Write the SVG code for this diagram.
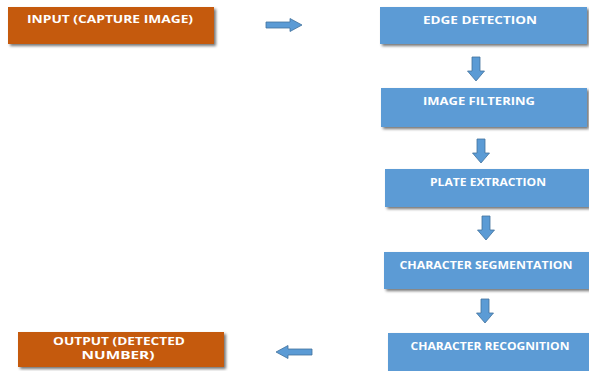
<svg xmlns="http://www.w3.org/2000/svg" width="589" height="371" viewBox="0 0 589 371">
<defs>
<filter id="sh" x="-5%" y="-20%" width="115%" height="160%">
<feGaussianBlur in="SourceAlpha" stdDeviation="1.5"/>
<feOffset dx="2" dy="2" result="b"/>
<feComponentTransfer><feFuncA type="linear" slope="0.55"/></feComponentTransfer>
<feMerge><feMergeNode/><feMergeNode in="SourceGraphic"/></feMerge>
</filter>
<path id="down" d="M-4,0 H4 V14 H8.5 L0,24 L-8.5,14 H-4 Z"/>
</defs>
<style>
.blue{fill:#5b9bd5;filter:url(#sh)}
.orange{fill:#c55a11;filter:url(#sh)}
.t{font-family:"Open Sans","Liberation Sans",Arial,sans-serif;font-weight:bold;font-size:10.5px;fill:#ffffff;text-anchor:middle}
.arr{fill:#5b9bd5;stroke:#41719c;stroke-width:0.8}
</style>
<rect width="589" height="371" fill="#ffffff"/>
<g id="input">
<rect class="orange" x="8" y="7" width="206" height="37"/>
<text class="t" x="110" y="23" textLength="166" lengthAdjust="spacingAndGlyphs">INPUT (CAPTURE IMAGE)</text>
</g>
<g id="edge">
<rect class="blue" x="380" y="7" width="207" height="37"/>
<text class="t" x="480" y="24" textLength="114" lengthAdjust="spacingAndGlyphs">EDGE DETECTION</text>
</g>
<g id="filter">
<rect class="blue" x="381" y="88" width="206" height="39"/>
<text class="t" x="479" y="105" textLength="112" lengthAdjust="spacingAndGlyphs">IMAGE FILTERING</text>
</g>
<g id="plate">
<rect class="blue" x="385" y="169" width="204" height="38"/>
<text class="t" x="488" y="186" textLength="116" lengthAdjust="spacingAndGlyphs">PLATE EXTRACTION</text>
</g>
<g id="segmentation">
<rect class="blue" x="384" y="252" width="205" height="37"/>
<text class="t" x="486" y="269" textLength="173" lengthAdjust="spacingAndGlyphs">CHARACTER SEGMENTATION</text>
</g>
<g id="recognition">
<rect class="blue" x="388" y="333" width="201" height="38"/>
<text class="t" x="490" y="350" textLength="159" lengthAdjust="spacingAndGlyphs">CHARACTER RECOGNITION</text>
</g>
<g id="output">
<rect class="orange" x="18" y="332" width="206" height="35"/>
<text class="t" x="119" y="345" textLength="132" lengthAdjust="spacingAndGlyphs">OUTPUT (DETECTED</text>
<text class="t" x="118" y="359" textLength="73" lengthAdjust="spacingAndGlyphs">NUMBER)</text>
</g>
<g id="connectors">
<path class="arr" d="M266,22 H290 V18.5 L302,25 L290,31.5 V28 H266 Z"/>
<use href="#down" class="arr" x="476" y="57"/>
<use href="#down" class="arr" x="481" y="139"/>
<use href="#down" class="arr" x="486" y="216"/>
<use href="#down" class="arr" x="485" y="299"/>
<path class="arr" d="M312,349 H288 V345.5 L276,352 L288,358.5 V355 H312 Z"/>
</g>
</svg>
